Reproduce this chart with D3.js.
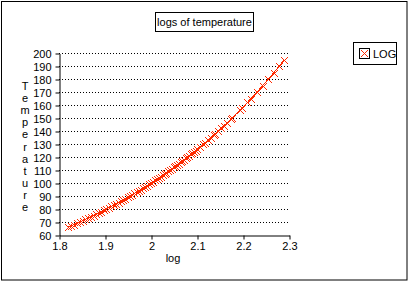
<!DOCTYPE html>
<html>
<head>
<meta charset="utf-8">
<script src="https://cdn.jsdelivr.net/npm/d3@7"></script>
<style>
  body { margin: 0; background: #fff; }
  svg { display: block; font-family: "Liberation Sans", Arial, sans-serif; }
</style>
</head>
<body>
<div id="chart"></div>
<script>
// temperatures
const temps = [
  66, 67, 68, 69, 70, 71, 72, 73, 74, 75, 76, 77, 78, 79, 80, 81, 82, 83, 84, 85,
  86, 87, 88, 89, 90, 91, 92, 93, 94, 95, 96, 97, 98, 99, 100, 101, 102, 103, 104, 105,
  106, 107, 108, 109, 110, 111, 112, 113, 114, 115, 116, 117, 118, 119, 120, 121, 122, 123, 124, 125,
  126, 128, 130, 131, 133, 135, 137, 138, 140, 142, 144, 146, 149, 150, 156, 158, 162, 165, 170, 175,
  180, 185, 190, 195
];
// log column (x values)
const logs = [
  1.8195, 1.8261, 1.8325, 1.8388, 1.8451, 1.8513, 1.8573, 1.8633, 1.8692, 1.8751, 1.8808, 1.8865, 1.8921, 1.8976, 1.9031, 1.9085, 1.9138, 1.9191, 1.9243, 1.9294,
  1.9345, 1.9395, 1.9445, 1.9494, 1.9542, 1.9590, 1.9638, 1.9685, 1.9731, 1.9777, 1.9823, 1.9868, 1.9912, 1.9956, 2.0000, 2.0043, 2.0086, 2.0128, 2.0170, 2.0212,
  2.0253, 2.0294, 2.0334, 2.0374, 2.0414, 2.0453, 2.0492, 2.0531, 2.0569, 2.0607, 2.0645, 2.0682, 2.0719, 2.0755, 2.0792, 2.0828, 2.0864, 2.0899, 2.0934, 2.0969,
  2.1004, 2.1072, 2.1139, 2.1173, 2.1239, 2.1303, 2.1367, 2.1399, 2.1461, 2.1523, 2.1584, 2.1644, 2.1732, 2.1761, 2.1931, 2.1987, 2.2095, 2.2175, 2.2304, 2.2430,
  2.2553, 2.2672, 2.2788, 2.2900
];
const xTicks = [1.8, 1.9, 2.0, 2.1, 2.2, 2.3];
const yTicks = [60, 70, 80, 90, 100, 110, 120, 130, 140, 150, 160, 170, 180, 190, 200];
const title = "logs of temperature";
const seriesName = "LOG";
const xLabel = "log";
const yLabel = "Temperature";

const W = 409, H = 282;
const plot = { left: 59, right: 289, top: 53, bottom: 235 };
const red = "#ff2a00";

const svg = d3.select("#chart").append("svg")
  .attr("width", W)
  .attr("height", H);

// outer frame
svg.append("rect")
  .attr("x", 1.5).attr("y", 1.5)
  .attr("width", 405.5).attr("height", 278.5)
  .attr("fill", "none").attr("stroke", "#000");

const x = d3.scaleLinear().domain([1.8, 2.3]).range([plot.left, plot.right]);
const y = d3.scaleLinear().domain([60, 200]).range([plot.bottom, plot.top]);

// dotted gridlines
svg.append("g")
  .selectAll("line")
  .data(yTicks.slice(1))
  .join("line")
  .attr("x1", plot.left)
  .attr("x2", plot.right)
  .attr("y1", (d) => Math.round(y(d)) + 0.5)
  .attr("y2", (d) => Math.round(y(d)) + 0.5)
  .attr("stroke", "#000")
  .attr("stroke-dasharray", "1,2");

const yAxis = svg.append("g")
  .attr("transform", `translate(${plot.left + 0.5},0.5)`)
  .call(d3.axisLeft(y).tickValues(yTicks).tickSize(4).tickSizeOuter(0).tickPadding(4));

const xAxis = svg.append("g")
  .attr("transform", `translate(0.5,${plot.bottom + 0.5})`)
  .call(d3.axisBottom(x).tickValues(xTicks).tickSize(4).tickSizeOuter(0).tickPadding(3)
    .tickFormat(d3.format("")));

[yAxis, xAxis].forEach((a) => {
  a.selectAll("text").attr("font-size", 11).attr("font-family", "Liberation Sans, Arial, sans-serif").attr("fill", "#000");
  a.selectAll("line, path").attr("stroke", "#000");
});

// series line + X markers
const pts = logs.map((v, i) => ({ x: v, y: temps[i] }));

svg.append("path")
  .datum(pts)
  .attr("fill", "none")
  .attr("stroke", red)
  .attr("stroke-width", 1)
  .attr("shape-rendering", "crispEdges")
  .attr("d", d3.line().x((d) => x(d.x)).y((d) => y(d.y)));

const m = 3.5;
svg.append("g")
  .attr("shape-rendering", "crispEdges")
  .selectAll("path")
  .data(pts)
  .join("path")
  .attr("transform", (d) => `translate(${Math.round(x(d.x)) + 0.5},${Math.round(y(d.y)) + 0.5})`)
  .attr("d", `M${-m},${-m}L${m},${m}M${-m},${m}L${m},${-m}`)
  .attr("stroke", red)
  .attr("stroke-width", 1)
  .attr("fill", "none");

// title box
const tg = svg.append("g");
tg.append("rect")
  .attr("x", 155.5).attr("y", 12.5)
  .attr("width", 98).attr("height", 19)
  .attr("fill", "#fff").attr("stroke", "#000");
tg.append("text")
  .attr("x", 204.5).attr("y", 26)
  .attr("text-anchor", "middle")
  .attr("font-size", 11)
  .text(title);

// legend
const lg = svg.append("g");
lg.append("rect")
  .attr("x", 353.5).attr("y", 42.5)
  .attr("width", 43).attr("height", 22)
  .attr("fill", "#fff").attr("stroke", "#000");
lg.append("rect")
  .attr("x", 359.5).attr("y", 48.5)
  .attr("width", 10).attr("height", 10)
  .attr("fill", "#fff").attr("stroke", "#000");
lg.append("path")
  .attr("d", "M361,50L368,57M361,57L368,50")
  .attr("stroke", red)
  .attr("shape-rendering", "crispEdges")
  .attr("fill", "none");
lg.append("text")
  .attr("x", 373).attr("y", 58)
  .attr("font-size", 11)
  .text(seriesName);

// axis titles
svg.append("text")
  .attr("x", 173).attr("y", 262)
  .attr("text-anchor", "middle")
  .attr("font-size", 11)
  .text(xLabel);

svg.append("g")
  .selectAll("text")
  .data(yLabel.split(""))
  .join("text")
  .attr("x", 25)
  .attr("y", (d, i) => 90 + i * 12.1)
  .attr("text-anchor", "middle")
  .attr("font-size", 11)
  .text((d) => d);
</script>
</body>
</html>
